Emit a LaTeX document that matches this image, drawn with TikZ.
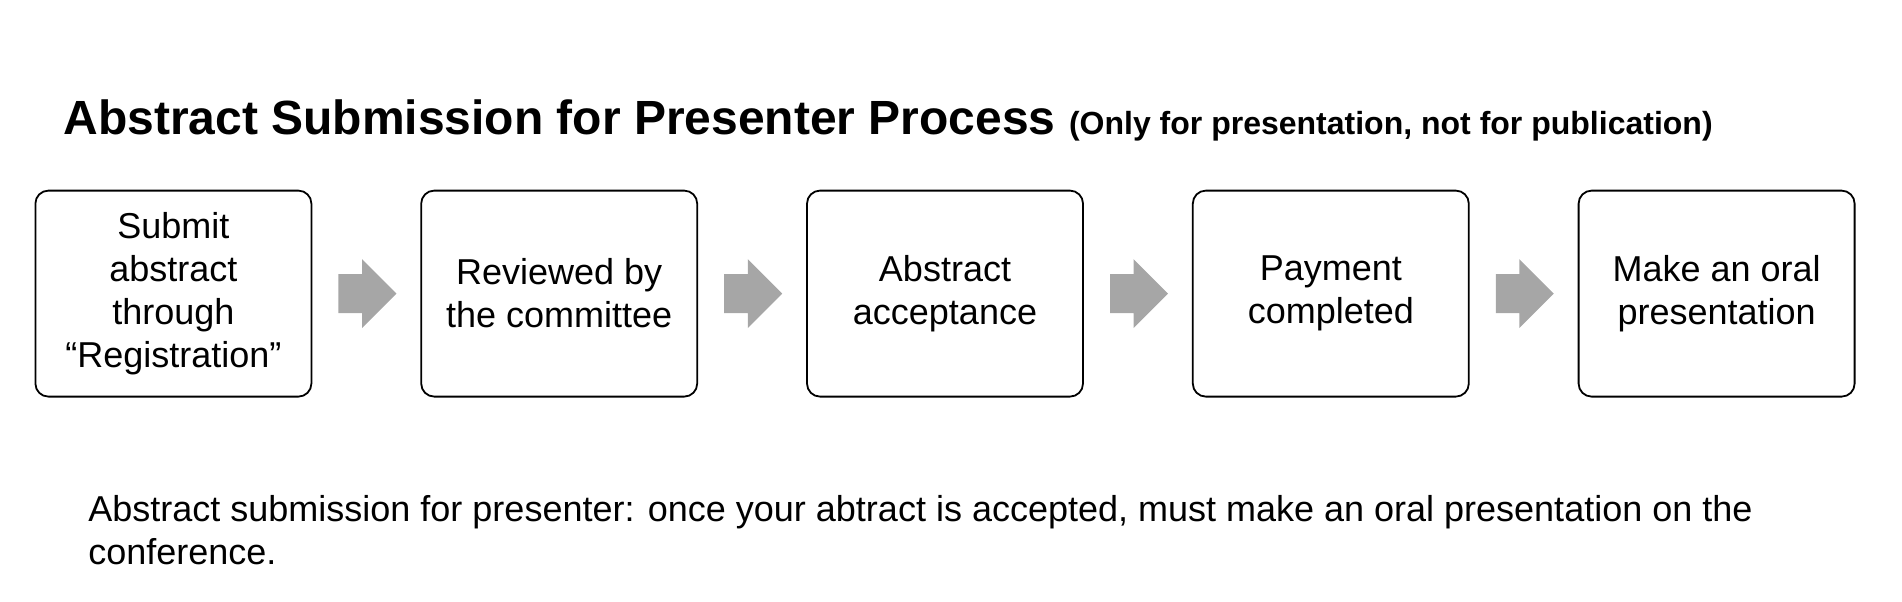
\documentclass[tikz,border=0pt]{standalone}
\usepackage{fontspec}
\setmainfont{Liberation Sans}
\usetikzlibrary{shapes.arrows, calc}

\begin{document}
\begin{tikzpicture}[
    b/.style={rectangle, draw, rounded corners=6.5pt, line width=0.9pt, minimum width=138pt, minimum height=103pt, align=center, font=\fontsize{18}{21.5}\selectfont, inner sep=2pt},
    a/.style={single arrow, fill=black!35, draw=none, minimum height=29pt, single arrow head extend=7.5pt, single arrow head indent=0pt, inner xsep=0pt, inner ysep=9.5pt, xshift=-4.3pt},
]
\useasboundingbox (0,0) rectangle (951pt,-300.5pt);

% title
\node[anchor=base west, inner sep=0pt] (title) at (31.5pt,-67.3pt)
  {\fontsize{24}{28}\selectfont\bfseries Abstract Submission for Presenter Process\ %
   \fontsize{16}{19}\selectfont(Only for presentation, not for publication)};

% steps
\node[b] (s1) at (86.7pt,-146.8pt) {Submit\\abstract\\through\\“Registration”};
\node[b] (s2) at (279.6pt,-146.8pt) {Reviewed by\\the committee};
\node[b] (s3) at (472.5pt,-146.8pt) {Abstract\\acceptance};
\node[b] (s4) at (665.4pt,-146.8pt) {Payment\\completed};
\node[b] (s5) at (858.3pt,-146.8pt) {Make an oral\\presentation};

\node[a] (a1) at ($(s1.east)!0.5!(s2.west)$) {};
\node[a] (a2) at ($(s2.east)!0.5!(s3.west)$) {};
\node[a] (a3) at ($(s3.east)!0.5!(s4.west)$) {};
\node[a] (a4) at ($(s4.east)!0.5!(s5.west)$) {};

% note
\node[anchor=base west, align=left, inner sep=0pt, font=\fontsize{18}{21.5}\selectfont] (note) at (44pt,-282.4pt)
  {Abstract submission for presenter: once your abtract is accepted, must make an oral presentation on the\\conference.};
\end{tikzpicture}
\end{document}
